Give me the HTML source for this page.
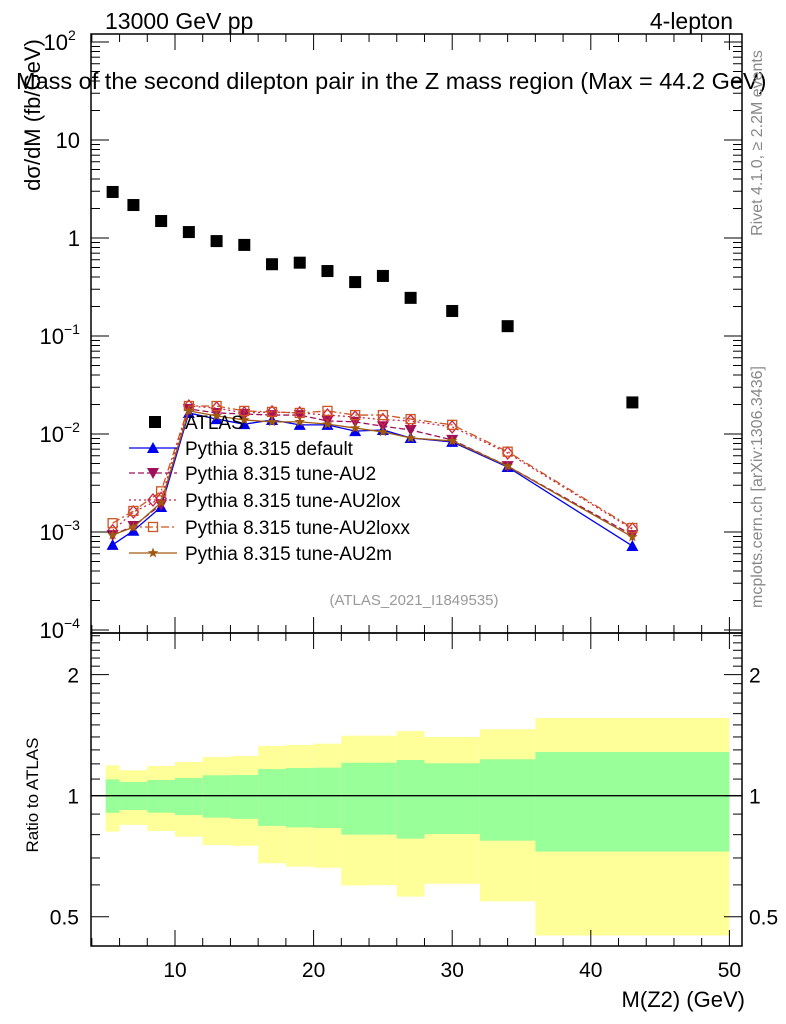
<!DOCTYPE html>
<html><head><meta charset="utf-8"><style>
body{margin:0;background:#fff}
svg{display:block;font-family:"Liberation Sans",sans-serif}
</style></head><body>
<svg id="c" width="786" height="1024" xmlns="http://www.w3.org/2000/svg">
<g id="bands"></g>
<g id="marks"></g>
<g id="axes"></g>
<text x="105" y="29" font-size="23">13000 GeV pp</text>
<text x="733" y="29" font-size="23" text-anchor="end">4-lepton</text>
<text x="16" y="89" font-size="23.5">Mass of the second dilepton pair in the Z mass region (Max = 44.2 GeV)</text>
<text transform="translate(40,115) rotate(-90)" font-size="22" text-anchor="middle">dσ/dM (fb/GeV)</text>
<text transform="translate(38,795) rotate(-90)" font-size="17" text-anchor="middle">Ratio to ATLAS</text>
<text x="745" y="1007" font-size="22" text-anchor="end">M(Z2) (GeV)</text>
<text transform="translate(762,143) rotate(-90)" font-size="16" fill="#888" text-anchor="middle">Rivet 4.1.0, ≥ 2.2M events</text>
<text transform="translate(762,487) rotate(-90)" font-size="16" fill="#888" text-anchor="middle">mcplots.cern.ch [arXiv:1306.3436]</text>
<text x="414" y="605" font-size="15" fill="#999" text-anchor="middle">(ATLAS_2021_I1849535)</text>
<g id="legend"></g>
</svg>
<script>
const edges=[5,6,8,10,12,14,16,18,20,22,24,26,28,32,36,50];
const centers=[5.5,7,9,11,13,15,17,19,21,23,25,27,30,34,43];
const atlas=[2.95,2.17,1.49,1.15,0.93,0.85,0.54,0.56,0.46,0.355,0.41,0.245,0.18,0.126,0.021];
const yelHi=[1.19,1.157,1.186,1.213,1.248,1.255,1.33,1.337,1.347,1.41,1.41,1.448,1.40,1.463,1.56];
const grnHi=[1.098,1.082,1.094,1.107,1.124,1.126,1.165,1.172,1.174,1.208,1.208,1.227,1.204,1.232,1.284];
const grnLo=[0.907,0.921,0.907,0.895,0.882,0.876,0.841,0.834,0.831,0.80,0.80,0.782,0.803,0.773,0.726];
const yelLo=[0.814,0.846,0.817,0.791,0.754,0.751,0.679,0.666,0.662,0.598,0.599,0.561,0.604,0.546,0.449];
const mcDefault=[7.4e-4,1.03e-3,1.8e-3,0.0164,0.0142,0.0126,0.0139,0.0124,0.0124,0.0107,0.011,0.0091,0.0083,0.0046,7.2e-4];
const mcAU2=[9.3e-4,1.15e-3,1.9e-3,0.018,0.0164,0.016,0.0156,0.0156,0.0136,0.0133,0.012,0.011,0.0087,0.0047,9.3e-4];
const mcAU2lox=[1.03e-3,1.6e-3,2.2e-3,0.0193,0.0184,0.0164,0.0168,0.0164,0.0156,0.0149,0.014,0.0136,0.0118,0.0064,1.07e-3];
const mcAU2loxx=[1.23e-3,1.64e-3,2.6e-3,0.0193,0.0193,0.0172,0.0168,0.0164,0.0172,0.0156,0.0156,0.0142,0.0124,0.0066,1.1e-3];
const mcAU2m=[9.3e-4,1.12e-3,2.0e-3,0.0172,0.0153,0.0139,0.0133,0.0133,0.0126,0.0115,0.0105,0.0091,0.0085,0.0047,8.9e-4];
const xTicks=[10,20,30,40,50];
const yTickLabels=[["10","2"],["10",""],["1",""],["10","−1"],["10","−2"],["10","−3"],["10","−4"]];
const ratioTicks=[2,1,0.5];

const NS="http://www.w3.org/2000/svg";
const L=91,R=742,T=34,MB=633,RB=946;
const X=v=>36.4+v*13.86;
const Y=v=>238-98*Math.log10(v);
const RY=v=>795.7-402*Math.log10(v);
function mk(p,t,a){const e=document.createElementNS(NS,t);for(const k in a)e.setAttribute(k,a[k]);p.appendChild(e);return e;}
const bands=document.getElementById('bands'),marks=document.getElementById('marks'),axes=document.getElementById('axes'),leg=document.getElementById('legend');
for(let i=0;i<centers.length;i++){
  const x0=X(edges[i]),x1=X(edges[i+1]);
  let r=mk(bands,'rect',{x:x0,y:RY(yelHi[i]),width:x1-x0,height:RY(yelLo[i])-RY(yelHi[i]),fill:'#ffff99'});
  
  r=mk(bands,'rect',{x:x0,y:RY(grnHi[i]),width:x1-x0,height:RY(grnLo[i])-RY(grnHi[i]),fill:'#99ff99'});
  
}
let ln=mk(bands,'line',{x1:L,x2:R,y1:RY(1),y2:RY(1),stroke:'#000','stroke-width':1.3});


function marker(g,type,x,y,col){
  let e;
  if(type==='sq')e=mk(g,'rect',{x:x-6,y:y-6,width:12,height:12,fill:col});
  else if(type==='up')e=mk(g,'polygon',{points:`${x},${y-6} ${x-6},${y+5} ${x+6},${y+5}`,fill:col});
  else if(type==='down')e=mk(g,'polygon',{points:`${x},${y+6} ${x-6},${y-5} ${x+6},${y-5}`,fill:col});
  else if(type==='diam')e=mk(g,'polygon',{points:`${x},${y-6} ${x-5},${y} ${x},${y+6} ${x+5},${y}`,fill:'none',stroke:col,'stroke-width':1.3});
  else if(type==='osq')e=mk(g,'rect',{x:x-4.5,y:y-4.5,width:9,height:9,fill:'none',stroke:col,'stroke-width':1.3});
  else {let p='';for(let k=0;k<10;k++){const a=-Math.PI/2+k*Math.PI/5,rr=k%2?2.3:5.5;p+=`${x+rr*Math.cos(a)},${y+rr*Math.sin(a)} `;}e=mk(g,'polygon',{points:p,fill:col});}
  return e;
}
const series=[
 {name:'Pythia 8.315 default',d:mcDefault,col:'#0000ee',dash:'',m:'up',id:'series-default'},
 {name:'Pythia 8.315 tune-AU2',d:mcAU2,col:'#a0105a',dash:'6,3',m:'down',id:'series-au2'},
 {name:'Pythia 8.315 tune-AU2lox',d:mcAU2lox,col:'#cc2244',dash:'2,3',m:'diam',id:'series-au2lox'},
 {name:'Pythia 8.315 tune-AU2loxx',d:mcAU2loxx,col:'#cc5522',dash:'8,3,2,3',m:'osq',id:'series-au2loxx'},
 {name:'Pythia 8.315 tune-AU2m',d:mcAU2m,col:'#a05a10',dash:'',m:'star',id:'series-au2m'}];
series.forEach(s=>{
  const g=mk(marks,'g',{});
  
  const pl=mk(g,'polyline',{points:centers.map((c,i)=>X(c)+','+Y(s.d[i])).join(' '),fill:'none',stroke:s.col,'stroke-width':1.3,'stroke-dasharray':s.dash});
  
  centers.forEach((c,i)=>{const e=marker(g,s.m,X(c),Y(s.d[i]),s.col);});
});
const ga=mk(marks,'g',{});

centers.forEach((c,i)=>{const e=marker(ga,'sq',X(c),Y(atlas[i]),'#000');});

const lys=[422,448,473,500,527,553];
let e=marker(leg,'sq',155,lys[0],'#000');
let t=mk(leg,'text',{x:185,y:lys[0]+7,'font-size':19});t.textContent='ATLAS';

series.forEach((s,k)=>{const y=lys[k+1];
  let l=mk(leg,'line',{x1:129,x2:177,y1:y,y2:y,stroke:s.col,'stroke-width':1.3,'stroke-dasharray':s.dash});
  
  let m=marker(leg,s.m,153,y,s.col);
  let tx=mk(leg,'text',{x:185,y:y+7,'font-size':19});tx.textContent=s.name;
  });

[[T,MB],[MB,RB]].forEach(([a,b])=>{const r=mk(axes,'rect',{x:L,y:a,width:R-L,height:b-a,fill:'none',stroke:'#000','stroke-width':1.5});
 });
function tick(x1,y1,x2,y2){mk(axes,'line',{x1,y1,x2,y2,stroke:'#000','stroke-width':1});}
for(let v=4;v<=50;v+=2){const x=X(v),big=v%10===0,h=big?16:8;
  [T,MB].forEach(y=>tick(x,y,x,y+h));[MB,RB].forEach(y=>tick(x,y,x,y-h));}
xTicks.forEach(v=>{const tt=mk(axes,'text',{x:X(v),y:977,'font-size':21,'text-anchor':'middle'});tt.textContent=v;
 });
for(let d=-4;d<=2;d++){for(let k=1;k<10;k++){const v=Math.pow(10,d)*k,y=Y(v);if(y<T||y>MB)continue;const h=k===1?18:9;tick(L,y,L+h,y);tick(R,y,R-h,y);}}
yTickLabels.forEach((lab,i)=>{const y=Y(Math.pow(10,2-i));
 const tt=mk(axes,'text',{x:80,y:y+8,'font-size':22,'text-anchor':'end'});
 
 if(lab[1]){const xe=lab[1].length>1?64:68;tt.textContent=lab[0];tt.setAttribute('x',xe);
  const s=mk(axes,'text',{x:xe,y:y-2,'font-size':14});s.textContent=lab[1];}
 else tt.textContent=lab[0];});
for(let k=4;k<=25;k++){const v=k/10;const y=RY(v);if(y<MB||y>RB)continue;const big=ratioTicks.includes(v);const h=big?18:9;tick(L,y,L+h,y);tick(R,y,R-h,y);}
ratioTicks.forEach(v=>{const y=RY(v)+8;
 let a=mk(axes,'text',{x:79,y,'font-size':21,'text-anchor':'end'});a.textContent=v;
 let b=mk(axes,'text',{x:749,y,'font-size':21});b.textContent=v;});
</script>
</body></html>
